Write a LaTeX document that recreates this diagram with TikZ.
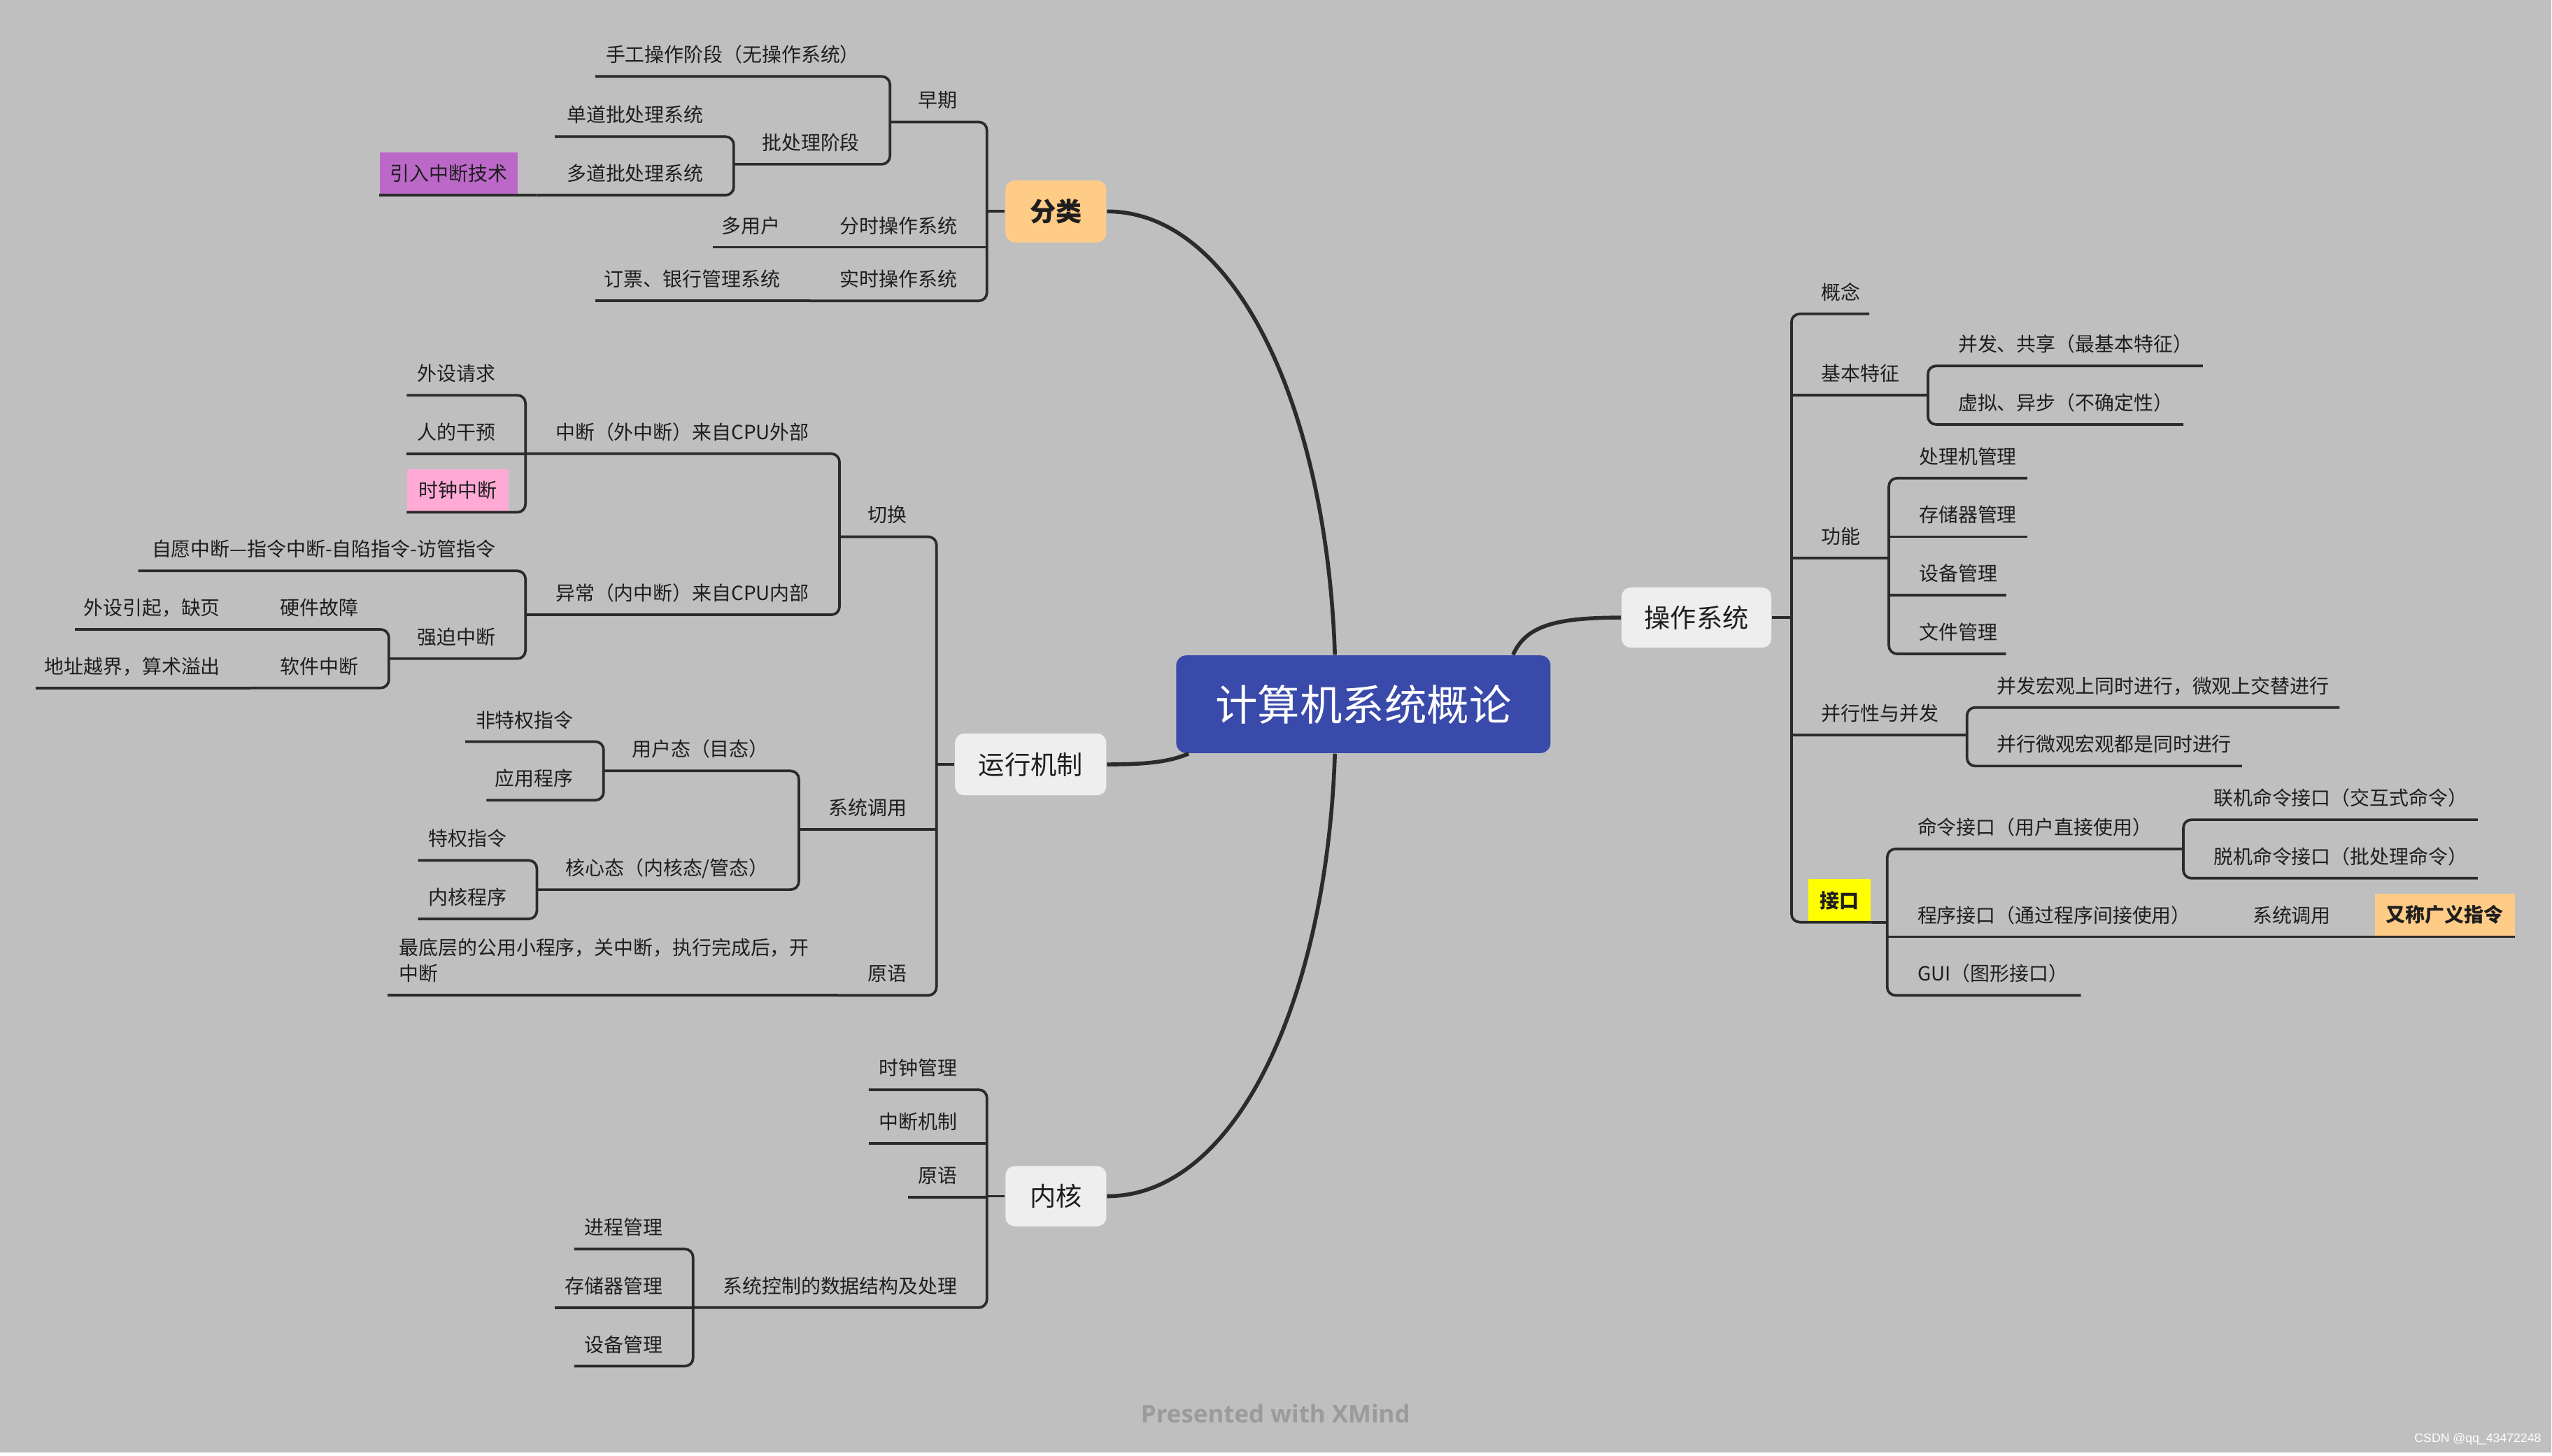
\documentclass[tikz,border=0pt]{standalone}
\usepackage{fontspec}
\setmainfont{Noto Sans CJK SC}
\newfontfamily\wmfont{Open Sans}
\newfontfamily\csdnfont{Liberation Sans}
\definecolor{bgc}{RGB}{191,191,191}
\definecolor{lc}{RGB}{43,43,43}
\definecolor{tc}{RGB}{30,30,30}
\definecolor{ctfill}{RGB}{58,74,170}
\definecolor{boxfill}{RGB}{238,238,238}
\definecolor{orangefill}{RGB}{255,204,136}
\definecolor{purplefill}{RGB}{187,104,200}
\definecolor{pinkfill}{RGB}{255,170,212}
\definecolor{yellowfill}{RGB}{255,255,0}
\definecolor{wmgray}{RGB}{155,155,155}

\begin{document}
\begin{tikzpicture}[x=0.5pt,y=-0.5pt,
  ln/.style={draw=lc,line width=0.8pt},
  br/.style={ln,rounded corners=2.5pt},
  trunk/.style={draw=lc,line width=1.2pt},
  lt/.style={anchor=south west,inner xsep=0pt,inner ysep=4.2pt,text depth=0pt,align=right,text=tc,font=\fontsize{6pt}{8pt}\selectfont},
  rt/.style={lt,anchor=south east,align=left},
  hl/.style={inner sep=0pt,minimum height=13pt,text=tc,font=\fontsize{6pt}{8pt}\selectfont},
  branch/.style={fill=boxfill,rounded corners=2.8pt,inner sep=0pt,minimum height=19pt,text=tc,font=\fontsize{8pt}{10pt}\selectfont}]
\fill[bgc] (0,0) rectangle (1568,893);
% centre and main branches
\node[fill=ctfill,rounded corners=3pt,minimum width=115pt,minimum height=30pt,text=white,font=\fontsize{13pt}{15pt}\selectfont] (ct) at (838,433) {计算机系统概论};
\node[branch,fill=orangefill,minimum width=31pt,font=\fontsize{8pt}{10pt}\selectfont\bfseries] (fl) at (649,130) {分类};
\node[branch,minimum width=46.5pt] (yx) at (633.5,470) {运行机制};
\node[branch,minimum width=31pt,minimum height=18.5pt] (nh) at (649,735.5) {内核};
\node[branch,minimum width=46pt,minimum height=18.5pt] (czxt) at (1042.75,379.75) {操作系统};
\coordinate (ctn) at ([xshift=-8.75pt]ct.north);
\coordinate (cts) at ([xshift=-8.75pt]ct.south);
\draw[trunk] (ctn) .. controls +(-5,-150) and +(80,0) .. (fl.east);
\draw[trunk] (cts) .. controls +(-5,150) and +(80,0) .. (nh.east);
\draw[trunk] (yx.east) .. controls +(25,0) and +(-12,5) .. ([xshift=4pt]ct.south west);
\draw[trunk] ([xshift=46pt]ct.north) .. controls +(8,-18) and +(-40,0) .. (czxt.west);
\coordinate (flb) at ([xshift=-5.5pt]fl.west);
\coordinate (yxb) at ([xshift=-5.5pt]yx.west);
\coordinate (nhb) at ([xshift=-5.5pt]nh.west);
\coordinate (czb) at ([xshift=6pt]czxt.east);

% 分类
\node[lt,text width=20.5pt] (zq) at (547,75) {早期};
\node[lt,text width=81pt] (sg) at (366,47) {手工操作阶段（无操作系统）};
\node[lt,text width=38.5pt] (pcl) at (451,101) {批处理阶段};
\node[lt,text width=45.5pt] (dd) at (341,84) {单道批处理系统};
\node[lt,text width=51pt] (duo) at (330,120) {多道批处理系统};
\node[hl,anchor=south west,fill=purplefill,minimum width=42.5pt] (yr) at (233,120) {引入中断技术};
\node[lt,text width=45pt] (fs) at (498,152) {分时操作系统};
\node[lt,text width=20.5pt] (dyh) at (438,152) {多用户};
\node[lt,text width=45pt] (ss) at (498,185) {实时操作系统};
\node[lt,text width=56.5pt] (dp) at (366,185) {订票、银行管理系统};
\draw[ln] (fl.west) -- (flb);
\draw[br] (zq.south west) -- (zq.south west -| flb) -- (ss.south west -| flb) -- (ss.south west);
\draw[ln] (fs.south west) -- (fs.south west -| flb);
\draw[br] (sg.south west) -- (sg.south west -| zq.south west) -- (pcl.south west -| zq.south west) -- (pcl.south west);
\draw[br] (dd.south west) -- (dd.south west -| pcl.south west) -- (duo.south west -| pcl.south west) -- (duo.south west);
\draw[ln] (yr.south west) -- (duo.south west);
\draw[ln] (dyh.south west) -- (fs.south west);
\draw[ln] (dp.south west) -- (ss.south west);

% 运行机制
\node[lt,text width=20.5pt] (qh) at (516,330) {切换};
\node[lt,text width=87pt] (zd) at (323,279) {中断（外中断）来自CPU外部};
\node[lt,text width=27pt] (ws) at (250,243) {外设请求};
\node[lt,text width=27pt] (rg) at (250,279) {人的干预};
\node[hl,anchor=south west,fill=pinkfill,minimum width=31pt] (sz) at (250,315) {时钟中断};
\node[lt,text width=87pt] (yc) at (323,378) {异常（内中断）来自CPU内部};
\node[lt,text width=109.5pt] (zy) at (85,351) {自愿中断—指令中断-自陷指令-访管指令};
\node[lt,text width=32.5pt] (qp) at (239,405) {强迫中断};
\node[lt,text width=33pt] (yj) at (154,387) {硬件故障};
\node[lt,text width=44.5pt] (wsq) at (46,387) {外设引起，缺页};
\node[lt,text width=33pt] (rj) at (154,423) {软件中断};
\node[lt,text width=56.5pt] (dz) at (22,423) {地址越界，算术溢出};
\node[lt,text width=33pt] (xd) at (491,510) {系统调用};
\node[lt,text width=50.5pt] (yh) at (371,474) {用户态（目态）};
\node[lt,text width=33pt] (ftq) at (286,456) {非特权指令};
\node[lt,text width=26.5pt] (yycx) at (299,492) {应用程序};
\node[lt,text width=71pt] (hx) at (330,547) {核心态（内核态/管态）};
\node[lt,text width=27pt] (tq) at (257,529) {特权指令};
\node[lt,text width=27pt] (nhcx) at (257,565) {内核程序};
\node[lt,text width=21pt] (yy) at (515,612) {原语};
\node[lt,text width=130pt,inner xsep=3.5pt,text depth=8pt,align=left] (zdc) at (238,612) {最底层的公用小程序，关中断，执行完成后，开\\中断};
\draw[ln] (yx.west) -- (yxb);
\draw[br] (qh.south west) -- (qh.south west -| yxb) -- (yy.south west -| yxb) -- (yy.south west);
\draw[ln] (xd.south west) -- (xd.south west -| yxb);
\draw[br] (zd.south west) -- (zd.south west -| qh.south west) -- (yc.south west -| qh.south west) -- (yc.south west);
\draw[br] (ws.south west) -- (ws.south west -| zd.south west) -- (sz.south west -| zd.south west) -- (sz.south west);
\draw[ln] (rg.south west) -- (rg.south west -| zd.south west);
\draw[br] (zy.south west) -- (zy.south west -| yc.south west) -- (qp.south west -| yc.south west) -- (qp.south west);
\draw[br] (yj.south west) -- (yj.south west -| qp.south west) -- (rj.south west -| qp.south west) -- (rj.south west);
\draw[ln] (wsq.south west) -- (yj.south west);
\draw[ln] (dz.south west) -- (rj.south west);
\draw[br] (yh.south west) -- (yh.south west -| xd.south west) -- (hx.south west -| xd.south west) -- (hx.south west);
\draw[br] (ftq.south west) -- (ftq.south west -| yh.south west) -- (yycx.south west -| yh.south west) -- (yycx.south west);
\draw[br] (tq.south west) -- (tq.south west -| hx.south west) -- (nhcx.south west -| hx.south west) -- (nhcx.south west);
\draw[ln] (zdc.south west) -- (yy.south west);

% 内核
\node[lt,text width=27pt] (szgl) at (534,670) {时钟管理};
\node[lt,text width=27pt] (zdjz) at (534,703) {中断机制};
\node[lt,text width=15pt] (yy2) at (558,736) {原语};
\node[lt,text width=81pt] (xtkz) at (426,804) {系统控制的数据结构及处理};
\node[lt,text width=27pt] (jcgl) at (353,768) {进程管理};
\node[lt,text width=33pt] (ccq) at (341,804) {存储器管理};
\node[lt,text width=27pt] (sbgl) at (353,840) {设备管理};
\draw[ln] (nh.west) -- (nhb);
\draw[br] (szgl.south west) -- (szgl.south west -| nhb) -- (xtkz.south west -| nhb) -- (xtkz.south west);
\draw[ln] (zdjz.south west) -- (zdjz.south west -| nhb);
\draw[ln] (yy2.south west) -- (yy2.south west -| nhb);
\draw[br] (jcgl.south west) -- (jcgl.south west -| xtkz.south west) -- (sbgl.south west -| xtkz.south west) -- (sbgl.south west);
\draw[ln] (ccq.south west) -- (ccq.south west -| xtkz.south west);

% 操作系统
\node[rt,text width=14.5pt] (gn) at (1149,193) {概念};
\node[rt,text width=32.5pt] (jbtz) at (1185,243) {基本特征};
\node[rt,text width=75pt] (bfgx) at (1354,225) {并发、共享（最基本特征）};
\node[rt,text width=69pt] (xnyb) at (1342,261) {虚拟、异步（不确定性）};
\node[rt,text width=20.5pt] (gnn) at (1161,343) {功能};
\node[rt,text width=33pt] (clj) at (1246,294) {处理机管理};
\node[rt,text width=33pt] (ccq2) at (1246,330) {存储器管理};
\node[rt,text width=26.5pt] (sbgl2) at (1233,366) {设备管理};
\node[rt,text width=26.5pt] (wjgl) at (1233,402) {文件管理};
\node[rt,text width=44.5pt] (bxx) at (1209,452) {并行性与并发};
\node[rt,text width=105pt] (bfhg) at (1438,435) {并发宏观上同时进行，微观上交替进行};
\node[rt,text width=75pt] (bxwg) at (1378,471) {并行微观宏观都是同时进行};
\node[hl,anchor=south east,fill=yellowfill,minimum width=19pt,font=\fontsize{6pt}{8pt}\selectfont\bfseries] (jk) at (1150,567) {接口};
\coordinate (jkb) at ([xshift=5pt]jk.south east);
\node[rt,text width=81.5pt] (mljk) at (1342,522) {命令接口（用户直接使用）};
\node[rt,text width=81pt] (ljml) at (1523,504) {联机命令接口（交互式命令）};
\node[rt,text width=81pt] (tjml) at (1523,540) {脱机命令接口（批处理命令）};
\node[rt,text width=93.5pt] (cxjk) at (1366,576) {程序接口（通过程序间接使用）};
\node[rt,text width=32pt] (xtdy) at (1449,576) {系统调用};
\node[hl,anchor=south east,fill=orangefill,minimum width=43pt,font=\fontsize{6pt}{8pt}\selectfont\bfseries] (ycgy) at (1546,576) {又称广义指令};
\node[rt,text width=50pt] (gui) at (1279,612) {GUI（图形接口）};
\draw[ln] (czxt.east) -- (czb);
\draw[br] (gn.south east) -- (gn.south east -| czb) -- (jk.south east -| czb) -- (jk.south east);
\draw[ln] (jbtz.south east) -- (jbtz.south east -| czb);
\draw[ln] (gnn.south east) -- (gnn.south east -| czb);
\draw[ln] (bxx.south east) -- (bxx.south east -| czb);
\draw[br] (bfgx.south east) -- (bfgx.south east -| jbtz.south east) -- (xnyb.south east -| jbtz.south east) -- (xnyb.south east);
\draw[br] (clj.south east) -- (clj.south east -| gnn.south east) -- (wjgl.south east -| gnn.south east) -- (wjgl.south east);
\draw[ln] (ccq2.south east) -- (ccq2.south east -| gnn.south east);
\draw[ln] (sbgl2.south east) -- (sbgl2.south east -| gnn.south east);
\draw[br] (bfhg.south east) -- (bfhg.south east -| bxx.south east) -- (bxwg.south east -| bxx.south east) -- (bxwg.south east);
\draw[ln] (jk.south east) -- (jkb);
\draw[br] (mljk.south east) -- (mljk.south east -| jkb) -- (gui.south east -| jkb) -- (gui.south east);
\draw[ln] (cxjk.south east) -- (cxjk.south east -| jkb);
\draw[br] (ljml.south east) -- (ljml.south east -| mljk.south east) -- (tjml.south east -| mljk.south east) -- (tjml.south east);
\draw[ln] (xtdy.south east) -- (cxjk.south east);
\draw[ln] (ycgy.south east) -- (xtdy.south east);

% watermarks
\node[text=wmgray,font=\wmfont\bfseries\fontsize{7.5pt}{9pt}\selectfont] (wm) at (784,869) {Presented with XMind};
\node[text=white,font=\csdnfont\fontsize{3.8pt}{4.5pt}\selectfont] (csdn) at (1523,885) {CSDN @qq\_43472248};
\end{tikzpicture}
\end{document}
